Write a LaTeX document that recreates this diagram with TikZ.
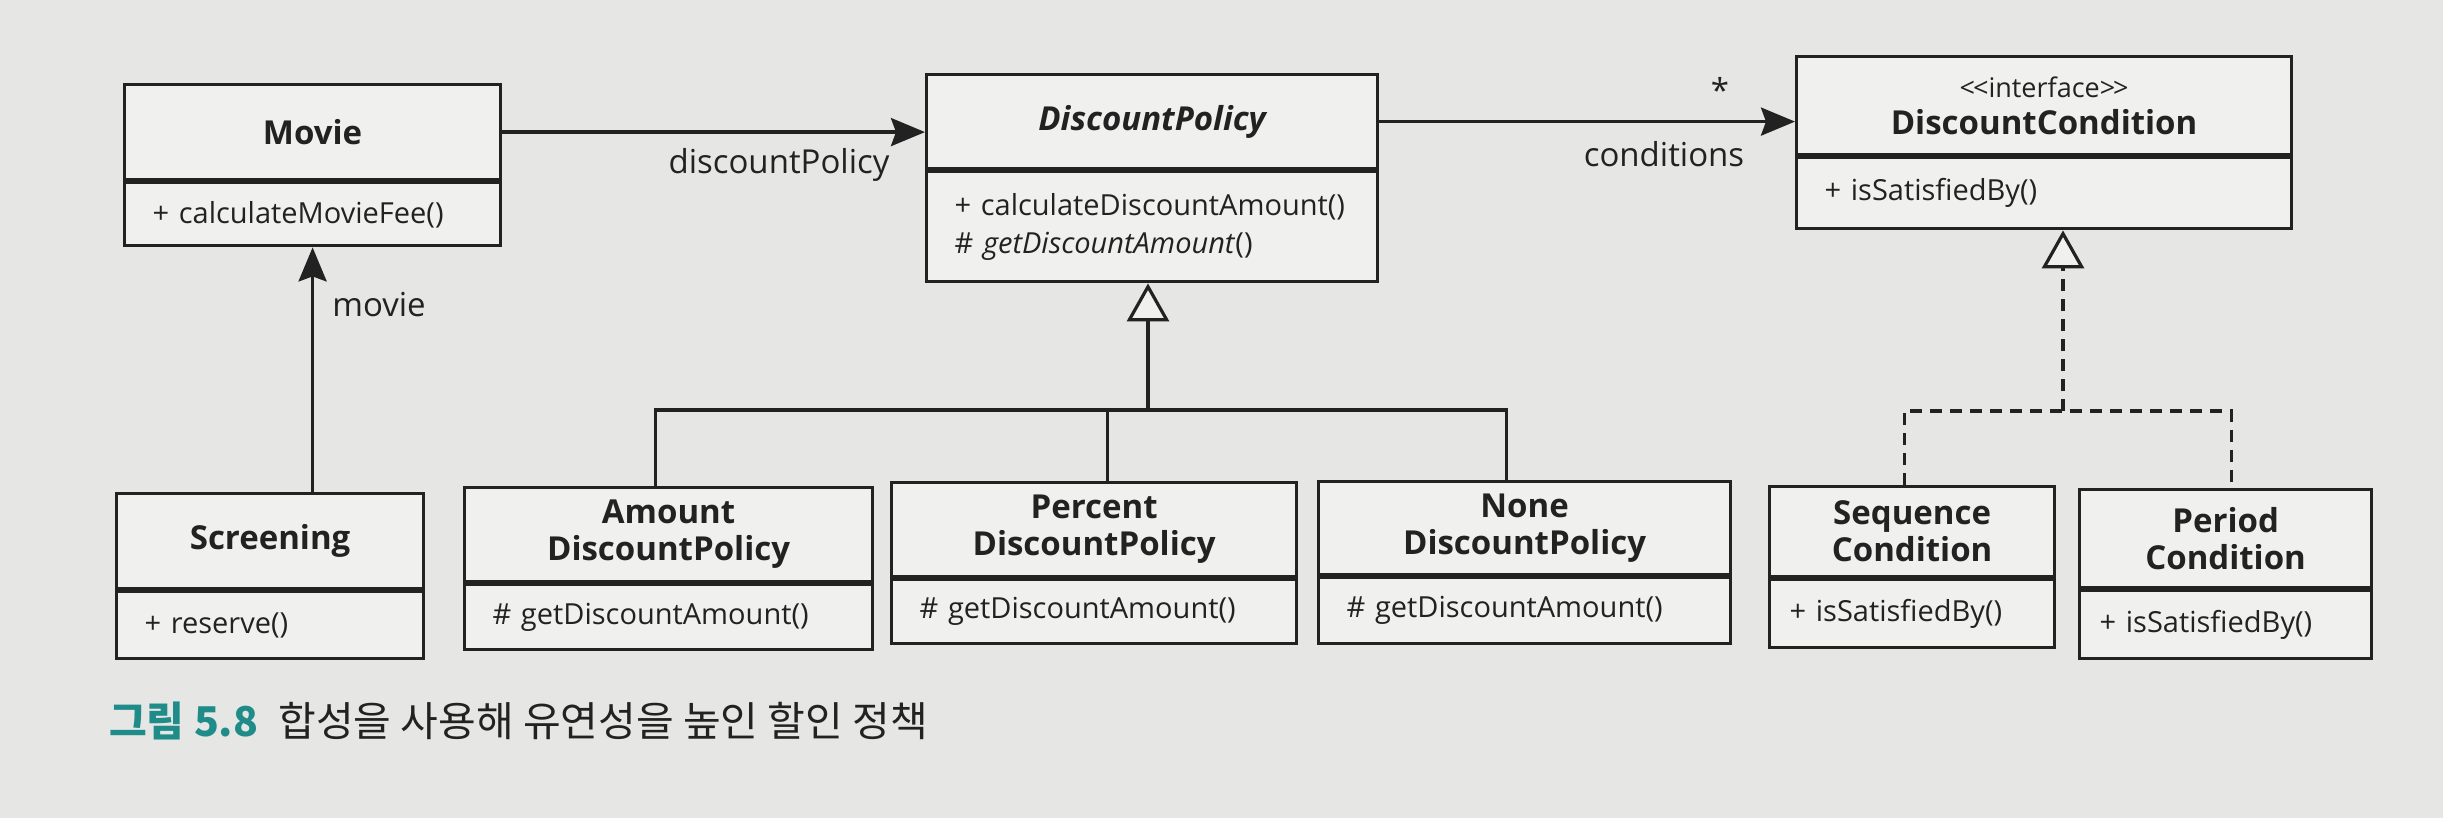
\documentclass[tikz,border=0pt]{standalone}
\usepackage{fontspec}
\setmainfont{Open Sans}
\newfontfamily\krfont{Noto Sans CJK KR}
\usetikzlibrary{arrows.meta}
\definecolor{bg}{HTML}{E6E6E4}
\definecolor{boxfill}{HTML}{F0F0EF}
\definecolor{ink}{HTML}{222222}
\definecolor{capteal}{HTML}{1F8C8A}
\tikzset{
  hdr/.style={draw=ink, fill=boxfill, line width=3.2pt, inner sep=0pt, align=center,
    font=\fontsize{33}{37}\selectfont\bfseries, text=ink, anchor=north west},
  bdy/.style={draw=ink, fill=boxfill, line width=3.2pt, inner xsep=28pt, inner ysep=0pt,
    align=left, font=\fontsize{29}{38}\selectfont, text=ink, anchor=north west},
  assoc/.style={draw=ink, line width=3.6pt, -{Stealth[length=34pt,width=28pt,inset=5pt]}},
  tree/.style={draw=ink, line width=3.2pt},
  dtree/.style={tree, dash pattern=on 12pt off 8pt},
  gen/.style={tree, -{Triangle[open,length=38pt,width=42pt,fill=boxfill]}},
  real/.style={gen, dash pattern=on 12pt off 8pt},
  lbl/.style={font=\fontsize{33}{38}\selectfont, text=ink, inner sep=0pt},
}
\begin{document}
\begin{tikzpicture}[x=1pt,y=-1pt]
\fill[bg] (0,0) rectangle (2443,818);
\useasboundingbox (0,0) rectangle (2443,818);

% Movie
\node[hdr, minimum width=376pt, minimum height=95pt] (mvH) at (123,83) {Movie};
\node[bdy, minimum width=376pt, minimum height=63pt, text width=320pt] (mvB) at (mvH.south west) {+ calculateMovieFee()};
% DiscountPolicy
\node[hdr, minimum width=451pt, minimum height=94pt] (dpH) at (925,73) {\itshape DiscountPolicy};
\node[bdy, minimum width=451pt, minimum height=110pt, text width=395pt] (dpB) at (dpH.south west) {+ calculateDiscountAmount()\\\# \textit{getDiscountAmount}()};
% DiscountCondition
\node[hdr, minimum width=495pt, minimum height=98pt] (dcH) at (1795,55) {{\mdseries\fontsize{27}{32}\selectfont <\kern-2pt<interface>\kern-2pt>}\\DiscountCondition};
\node[bdy, minimum width=495pt, minimum height=71pt, text width=439pt] (dcB) at (dcH.south west) {+ isSatisfiedBy()};
% Screening
\node[hdr, minimum width=307pt, minimum height=95pt] (scH) at (115,492) {Screening};
\node[bdy, minimum width=307pt, minimum height=67pt, text width=251pt] (scB) at (scH.south west) {+ reserve()};
% Amount
\node[hdr, minimum width=408pt, minimum height=94pt] (amH) at (463,486) {Amount\\DiscountPolicy};
\node[bdy, minimum width=408pt, minimum height=65pt, text width=352pt] (amB) at (amH.south west) {\# getDiscountAmount()};
% Percent
\node[hdr, minimum width=405pt, minimum height=94pt] (peH) at (890,481) {Percent\\DiscountPolicy};
\node[bdy, minimum width=405pt, minimum height=64pt, text width=349pt] (peB) at (peH.south west) {\# getDiscountAmount()};
% None
\node[hdr, minimum width=412pt, minimum height=93pt] (noH) at (1317,480) {None\\DiscountPolicy};
\node[bdy, minimum width=412pt, minimum height=66pt, text width=356pt] (noB) at (noH.south west) {\# getDiscountAmount()};
% Sequence
\node[hdr, minimum width=285pt, minimum height=90pt] (sqH) at (1768,485) {Sequence\\Condition};
\node[bdy, minimum width=285pt, minimum height=68pt, text width=245pt, inner xsep=20pt] (sqB) at (sqH.south west) {+ isSatisfiedBy()};
% Period
\node[hdr, minimum width=292pt, minimum height=98pt] (pdH) at (2078,488) {Period\\Condition};
\node[bdy, minimum width=292pt, minimum height=68pt, text width=252pt, inner xsep=20pt] (pdB) at (pdH.south west) {+ isSatisfiedBy()};

% associations
\draw[assoc] (mvH.east) -- (mvH.east -| dpH.west);
\draw[assoc] (dpH.east) -- (dpH.east -| dcH.west);
\draw[assoc] (scH.north -| mvB.south) -- (mvB.south);
\node[lbl] (ldp) at (779,165) {discountPolicy};
\node[lbl] (lcond) at (1664,154) {conditions};
\node[lbl] (lstar) at (1720,90) {*};
\node[lbl] (lmovie) at (379,305) {movie};

% generalization
\coordinate (gj) at (1148,410);
\draw[tree] ([xshift=-13pt]amH.north) |- ([xshift=-18pt]noH.north |- gj) -- ([xshift=-18pt]noH.north);
\draw[tree] ([xshift=13pt]peH.north) -- ([xshift=13pt]peH.north |- gj);
\draw[gen] (gj) -- (dpB.south -| gj);

% realization
\coordinate (rj) at (2063,411);
\draw[dtree] ([xshift=-8pt]sqH.north) |- ([xshift=6pt]pdH.north |- rj) -- ([xshift=6pt]pdH.north);
\draw[real] (rj) -- (dcB.south -| rj);

% caption
\node[anchor=west, inner sep=0pt, font=\krfont\fontsize{41}{48}\selectfont, text=ink] (cap) at (109,721)
  {\textcolor{capteal}{\bfseries 그림 5.8}\hspace{20pt}합성을 사용해 유연성을 높인 할인 정책};
\end{tikzpicture}
\end{document}
